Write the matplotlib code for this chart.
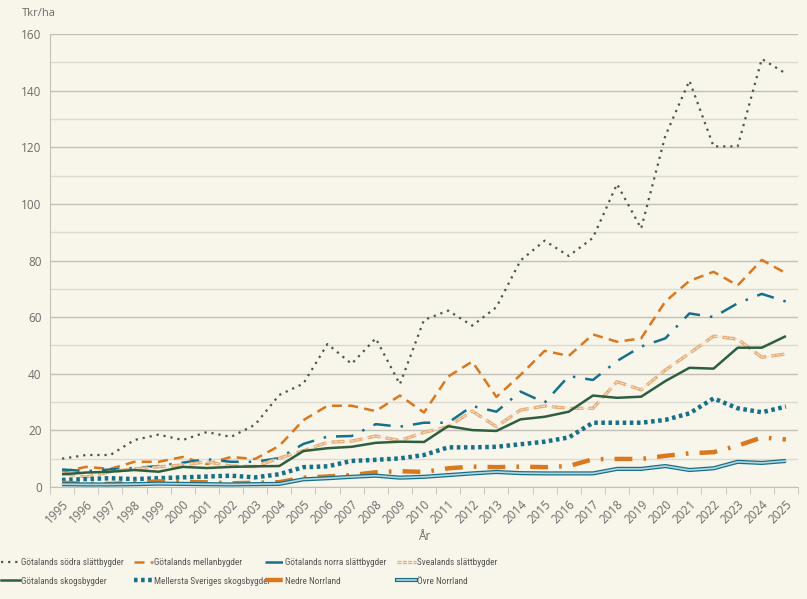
import numpy as np
import matplotlib
matplotlib.use("Agg")
import matplotlib.pyplot as plt
from matplotlib.lines import Line2D
from matplotlib.font_manager import FontProperties, fontManager
from matplotlib.textpath import TextPath
import matplotlib.patheffects as pe

## ---------------------------------- data ----------------------------------
years = list(range(1995, 2026))

sodra_slatt = [10, 11.3, 11.3, 16.6, 18.5, 16.6, 19.4, 17.7, 22, 32.5, 36.5, 50.5, 43.5, 52.5, 36.3,
               59, 62.3, 57, 63.5, 80, 87, 81.6, 88, 107, 91.3, 124, 143.5, 120.3, 120.3, 151.2, 146]
mellanbygder = [5.4, 7.1, 6.4, 8.9, 8.9, 10.6, 8.1, 10.6, 9.9, 14.5, 23.6, 28.7, 28.7, 26.8, 32.3,
                26.3, 39, 44.3, 31.8, 39.6, 48.1, 46.3, 53.9, 51.3, 52.5, 65.5, 72.8, 76, 71.2, 80.2, 75.5]
norra_slatt = [6.2, 5.6, 6.2, 6.7, 7.4, 8.6, 9.8, 8.9, 8.9, 10.2, 15.2, 17.8, 18, 22.2, 21.3,
               22.7, 22.7, 28.6, 26.6, 33.7, 29.8, 39.2, 37.8, 44.5, 49.6, 52.5, 61.3, 60, 64.9, 68.2, 65.5]
svealands = [4.9, 3.5, 5.4, 6.4, 7.1, 7.8, 8.9, 7.4, 7.2, 10.2, 12.8, 15.8, 16.2, 18, 16.4,
             19.3, 21.3, 26.8, 21.3, 27.2, 28.6, 27.8, 27.8, 37.2, 34.3, 41.3, 47.2, 53.3, 52.2, 45.8, 47]
gotal_skog = [4.5, 5.1, 5.4, 6, 5.4, 7.1, 6.7, 7.1, 7.3, 7.4, 12.7, 13.7, 14.2, 15.6, 16,
              15.9, 21.5, 20.1, 19.8, 23.9, 24.8, 26.6, 32.3, 31.5, 31.9, 37.4, 42.1, 41.8, 49.2, 49.2, 53.3]
mellersta_skog = [2.5, 2.8, 3.1, 2.8, 3.1, 3.4, 3.7, 4, 3.4, 4.5, 7, 7.3, 9.2, 9.6, 10.1,
                  11.3, 14, 14, 14.2, 15.1, 16, 17.5, 22.7, 22.7, 22.7, 23.7, 26, 31.3, 27.8, 26.4, 28.4]
nedre_norrland = [1.5, 1.1, 1.1, 1.5, 2, 1.7, 1.7, 1.3, 1.5, 1.7, 3.3, 3.7, 4.2, 5.2, 5.6,
                  5.3, 6.6, 7.2, 7, 7.2, 7, 7.4, 9.8, 9.9, 9.9, 11, 11.9, 12.3, 14.6, 17.5, 16.8]
ovre_norrland = [1, 0.9, 0.9, 1, 1.2, 1.1, 1, 0.9, 1, 1.1, 2.7, 3.1, 3.6, 4, 3.3,
                 3.6, 4.2, 4.8, 5.3, 4.9, 4.8, 4.8, 4.8, 6.4, 6.4, 7.4, 6, 6.6, 8.9, 8.5, 9.2]

labels = ["Götalands södra slättbygder", "Götalands mellanbygder", "Götalands norra slättbygder",
          "Svealands slättbygder", "Götalands skogsbygder", "Mellersta Sveriges skogsbygder",
          "Nedre Norrland", "Övre Norrland"]
series = [sodra_slatt, mellanbygder, norra_slatt, svealands, gotal_skog, mellersta_skog,
          nedre_norrland, ovre_norrland]

## ---------------------------------- styles ----------------------------------
bg = "#f8f5ea"
teal = "#17708a"
orange = "#d9781e"
light_or = "#e6ae78"
dkgreen = "#2e5e40"
dotgrey = "#48584e"

styles = [
    dict(color=dotgrey, lw=1.6, ls=(0, (1, 2.2))),
    dict(color=orange, lw=1.8, ls=(0, (4, 2.5))),
    dict(color=teal, lw=1.8, ls=(0, (7, 4, 1, 4))),
    dict(color=light_or, lw=2.4, ls=(0, (4, 1.5))),
    dict(color=dkgreen, lw=1.8, ls="-"),
    dict(color=teal, lw=3.2, ls=(0, (0.8, 0.8))),
    dict(color=orange, lw=3.2, ls=(0, (4, 2.5, 0.6, 2.5))),
    dict(color=teal, lw=3.0, ls="-"),
]
inner = {3: ("#f3e3cf", 0.7), 7: ("#b5d6de", 1.2)}

plt.rcParams["font.family"] = ["Open Sans", "DejaVu Sans"]

fig = plt.figure(figsize=(8.07, 5.99), dpi=100, facecolor=bg)
ax = fig.add_axes([50 / 807, 112 / 599, 748 / 807, 453 / 599])
ax.set_facecolor(bg)

x = np.arange(len(years))
handles = []
for i, (vals, st) in enumerate(zip(series, styles)):
    ax.plot(x, vals, solid_capstyle="butt", dash_capstyle="butt", zorder=3 + i * 0.1, **st)
    h = Line2D([], [], **st)
    if i in inner:
        c, w = inner[i]
        ls_in = "-" if i == 7 else st["ls"]
        ax.plot(x, vals, color=c, lw=w, ls=ls_in, zorder=3 + i * 0.1 + 0.05)
        h = Line2D([], [], path_effects=[pe.Stroke(linewidth=st["lw"], foreground=st["color"]),
                                         pe.Normal()], color=c, lw=w, ls=ls_in)
    handles.append(h)

ax.set_xlim(-0.5, len(years) - 0.5)
ax.set_ylim(0, 160)
ax.set_yticks(np.arange(0, 161, 20))
ax.set_yticks(np.arange(10, 160, 20), minor=True)
ax.yaxis.grid(True, which="major", color="#c2c0b8", lw=1)
ax.yaxis.grid(True, which="minor", color="#dcdad2", lw=1)
ax.tick_params(axis="y", which="both", length=0, labelsize=8.5, labelcolor="#6b6b6b", pad=6)

ax.set_xticks(x)
ax.set_xticklabels([str(y) for y in years], rotation=45, ha="right", rotation_mode="anchor")
ax.set_xticks(np.arange(-0.5, len(years)), minor=True)
ax.tick_params(axis="x", which="major", length=0, labelsize=8.5, labelcolor="#6b6b6b", pad=8)
ax.tick_params(axis="x", which="minor", length=5, color="#c2c0b8")

for s in ["top", "right"]:
    ax.spines[s].set_visible(False)
for s in ["left", "bottom"]:
    ax.spines[s].set_color("#c2c0b8")
ax.set_axisbelow(True)

fig.text(22 / 807, 1 - 13 / 599, "Tkr/ha", fontsize=8, color="#6b6b6b", va="center")
fig.text(424 / 807, 1 - 536 / 599, "År", fontsize=8.5, color="#6b6b6b", ha="center", va="center")

# legend: välj den smalaste installerade fonten och storlek så att längsta texten får plats
installed = {f.name for f in fontManager.ttflist}
cands = [f for f in ["Liberation Sans Narrow", "Roboto Condensed", "Lato", "Roboto",
                     "Liberation Sans", "Open Sans", "DejaVu Sans"] if f in installed]
target_px = 116
best = None
for fam in cands:
    p = FontProperties(family=fam, size=8)
    w = max(TextPath((0, 0), s, prop=p).get_extents().width for s in labels) * 100 / 72
    size = min(9.0, 8.0 * target_px / w)
    if best is None or size > best[1]:
        best = (fam, size)
leg_prop = FontProperties(family=best[0], size=best[1])
hl = 13.5 / best[1]  # handle ~18 px

col_x = [0 / 807, 133 / 807, 264 / 807, 396 / 807]
for c in range(4):
    lg = fig.legend([handles[c], handles[c + 4]], [labels[c], labels[c + 4]],
                    loc="upper left", bbox_to_anchor=(col_x[c], 1 - 557 / 599),
                    frameon=False, handlelength=hl, handletextpad=0.1,
                    labelspacing=1.05, borderaxespad=0, borderpad=0.1, prop=leg_prop)
    for t in lg.get_texts():
        t.set_color("#555555")

fig.savefig("out.png", dpi=100, facecolor=bg)
